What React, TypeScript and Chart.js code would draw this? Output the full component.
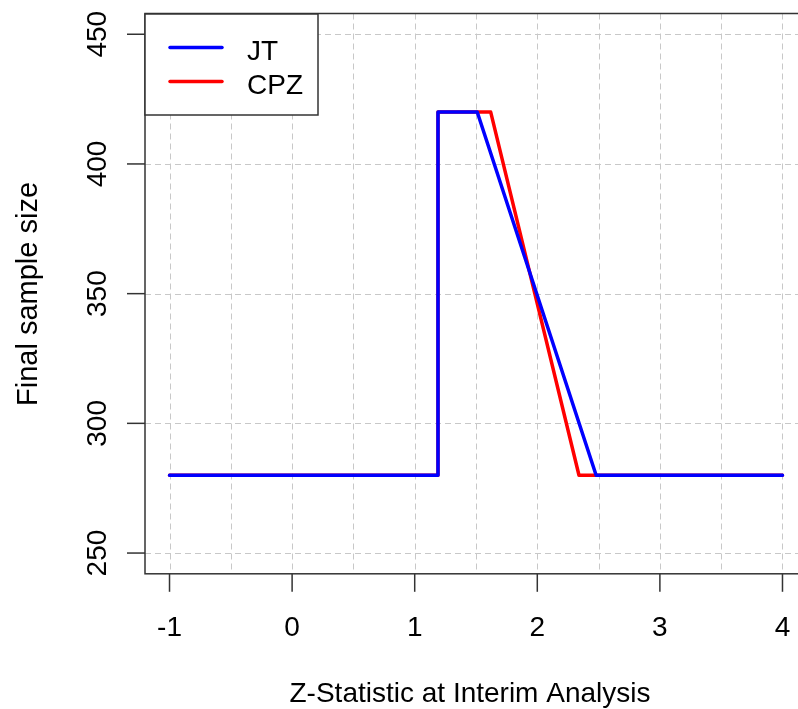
import React, { useEffect, useRef } from "react";
import { Chart, registerables } from "chart.js";

Chart.register(...registerables);

// ---- data ----
const jtX = [-1, 1.19, 1.19, 1.51, 2.48, 4];
const jtY = [280, 280, 420, 420, 280, 280];
const cpzX = [-1, 1.19, 1.19, 1.62, 2.34, 4];
const cpzY = [280, 280, 420, 420, 280, 280];

const xTicks = [-1, 0, 1, 2, 3, 4];
const yTicks = [250, 300, 350, 400, 450];
const xGridLines = [-1, -0.5, 0, 0.5, 1, 1.5, 2, 2.5, 3, 3.5, 4];
const seriesNames = ["JT", "CPZ"];
const seriesColors = ["#0000FF", "#FF0000"];
const xTitle = "Z-Statistic at Interim Analysis";
const yTitle = "Final sample size";

const FONT = '"Liberation Sans", Arial, sans-serif';

const rPlugin = {
  id: "rstyle",
  beforeDatasetsDraw(chart: any) {
    const { ctx, chartArea: a, scales } = chart;
    const xs = scales.x, ys = scales.y;
    ctx.save();
    ctx.strokeStyle = "#c8c8c8";
    ctx.lineWidth = 1;
    ctx.setLineDash([6, 4]);
    for (const v of xGridLines) {
      const px = Math.round(xs.getPixelForValue(v)) + 0.5;
      ctx.beginPath();
      ctx.moveTo(px, a.top);
      ctx.lineTo(px, a.bottom);
      ctx.stroke();
    }
    for (const v of yTicks) {
      const py = Math.round(ys.getPixelForValue(v)) + 0.5;
      ctx.beginPath();
      ctx.moveTo(a.left, py);
      ctx.lineTo(a.right, py);
      ctx.stroke();
    }
    ctx.restore();
  },
  afterDatasetsDraw(chart: any) {
    const { ctx, chartArea: a, scales } = chart;
    const xs = scales.x, ys = scales.y;
    ctx.save();
    // box
    ctx.strokeStyle = "#333333";
    ctx.lineWidth = 1.5;
    ctx.setLineDash([]);
    ctx.strokeRect(a.left, a.top, a.right - a.left, a.bottom - a.top);

    // x ticks
    ctx.fillStyle = "#000";
    ctx.font = `28px ${FONT}`;
    ctx.textAlign = "center";
    ctx.textBaseline = "alphabetic";
    for (const v of xTicks) {
      const px = xs.getPixelForValue(v);
      ctx.beginPath();
      ctx.moveTo(px, a.bottom);
      ctx.lineTo(px, a.bottom + 18);
      ctx.stroke();
      ctx.fillText(String(v), px, 636);
    }
    // y ticks
    for (const v of yTicks) {
      const py = ys.getPixelForValue(v);
      ctx.beginPath();
      ctx.moveTo(a.left, py);
      ctx.lineTo(a.left - 18, py);
      ctx.stroke();
      ctx.save();
      ctx.translate(105.5, py);
      ctx.rotate(-Math.PI / 2);
      ctx.textAlign = "center";
      ctx.fillText(String(v), 0, 0);
      ctx.restore();
    }
    // titles
    ctx.textAlign = "center";
    ctx.fillText(xTitle, 470, 702);
    ctx.save();
    ctx.font = `29px ${FONT}`;
    ctx.translate(36.5, 294);
    ctx.rotate(-Math.PI / 2);
    ctx.fillText(yTitle, 0, 0);
    ctx.restore();

    // legend
    const lx = a.left, ly = a.top + 0.5, lw = 173, lh = 101;
    ctx.fillStyle = "#ffffff";
    ctx.fillRect(lx, ly, lw, lh);
    ctx.strokeStyle = "#333333";
    ctx.lineWidth = 1.5;
    ctx.strokeRect(lx, ly, lw, lh);
    const rows = [47.5, 81.5];
    seriesNames.forEach((name, i) => {
      ctx.strokeStyle = seriesColors[i];
      ctx.lineWidth = 3.5;
      ctx.lineCap = "round";
      ctx.beginPath();
      ctx.moveTo(170, rows[i]);
      ctx.lineTo(222, rows[i]);
      ctx.stroke();
      ctx.fillStyle = "#000";
      ctx.textAlign = "left";
      ctx.fillText(name, 247, rows[i] + 12);
    });
    ctx.restore();
  },
};

export default function App() {
  const ref = useRef<HTMLCanvasElement>(null);
  useEffect(() => {
    if (!ref.current) return;
    const chart = new Chart(ref.current, {
      type: "line",
      data: {
        datasets: [
          {
            label: seriesNames[0],
            data: jtX.map((x, i) => ({ x, y: jtY[i] })),
            borderColor: seriesColors[0],
            borderWidth: 3.5,
            pointRadius: 0,
            borderCapStyle: "round",
            borderJoinStyle: "round",
            fill: false,
            tension: 0,
          },
          {
            label: seriesNames[1],
            data: cpzX.map((x, i) => ({ x, y: cpzY[i] })),
            borderColor: seriesColors[1],
            borderWidth: 3.5,
            pointRadius: 0,
            borderCapStyle: "round",
            borderJoinStyle: "round",
            fill: false,
            tension: 0,
          },
        ],
      },
      options: {
        animation: false,
        responsive: false,
        devicePixelRatio: 1,
        layout: { padding: { top: 13.5, right: 0, bottom: 0, left: 0 } },
        plugins: { legend: { display: false }, tooltip: { enabled: false } },
        scales: {
          x: {
            type: "linear",
            min: -1.2,
            max: 4.2,
            grid: { display: false },
            border: { display: false },
            ticks: { display: false },
            afterFit: (s: any) => { s.height = 135.2; },
          },
          y: {
            type: "linear",
            min: 242,
            max: 458,
            grid: { display: false },
            border: { display: false },
            ticks: { display: false },
            afterFit: (s: any) => { s.width = 145; },
          },
        },
      },
      plugins: [rPlugin],
    } as any);
    return () => chart.destroy();
  }, []);
  return (
    <div style={{ position: "fixed", left: 0, top: 0, width: 798, height: 709, overflow: "hidden", background: "#fff" }}>
      <canvas ref={ref} width={807} height={709} style={{ display: "block" }} />
    </div>
  );
}
